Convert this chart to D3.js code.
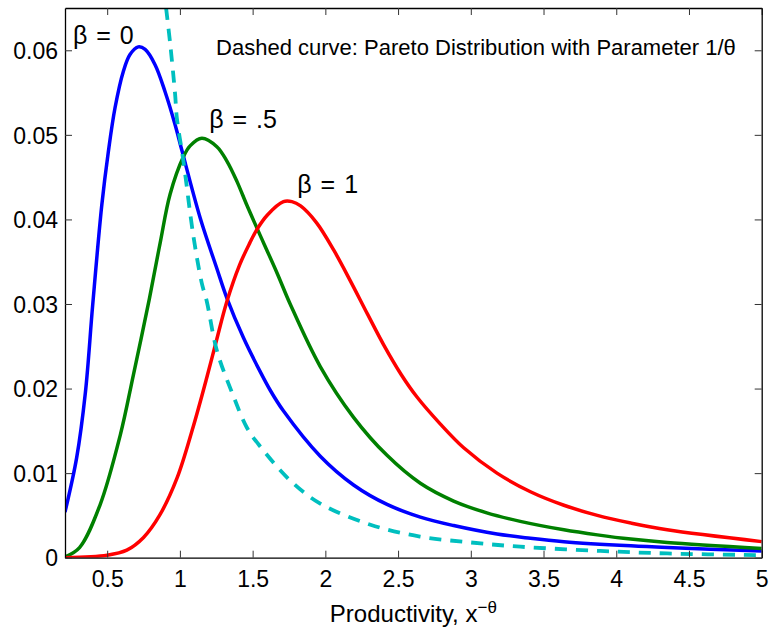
<!DOCTYPE html>
<html>
<head>
<meta charset="utf-8">
<script src="https://cdn.jsdelivr.net/npm/d3@7"></script>
<style>
    body { margin: 0; background: #fff; }
    svg text { font-family: "Liberation Sans", Arial, Helvetica, sans-serif; fill: #000; }
</style>
</head>
<body>
<div id="chart"></div>
<script>
// values
var betaZeroX = [0.21, 0.29, 0.35, 0.40, 0.463, 0.508, 0.554, 0.611, 0.657, 0.714, 0.761, 0.829, 0.898, 0.967, 1.013, 1.139, 1.254, 1.323, 1.437, 1.552, 1.621, 1.71, 1.965, 2.194, 2.424, 2.653, 2.882, 3.18, 3.41, 3.64, 4.10, 4.35, 5.0];
var betaZeroY = [0.0054, 0.0118, 0.0195, 0.0298, 0.0417, 0.0480, 0.0532, 0.0575, 0.0595, 0.0604, 0.0601, 0.0583, 0.0551, 0.0512, 0.0482, 0.0402, 0.0342, 0.0307, 0.0260, 0.0220, 0.0198, 0.0174, 0.0120, 0.0086, 0.0063, 0.0048, 0.0038, 0.0028, 0.0023, 0.0019, 0.0014, 0.0012, 0.0008];

var betaHalfX = [0.21, 0.31, 0.45, 0.59, 0.68, 0.79, 0.864, 0.933, 1.024, 1.07, 1.151, 1.254, 1.323, 1.392, 1.46, 1.529, 1.667, 1.758, 1.965, 2.194, 2.424, 2.653, 2.882, 3.11, 3.34, 3.64, 3.87, 4.10, 4.35, 5.0];
var betaHalfY = [0.0001, 0.0012, 0.0062, 0.0145, 0.0216, 0.0306, 0.0372, 0.0430, 0.0474, 0.0487, 0.0496, 0.0486, 0.0469, 0.0445, 0.0417, 0.0390, 0.0337, 0.0300, 0.0226, 0.0166, 0.0121, 0.0088, 0.0067, 0.0053, 0.0043, 0.0033, 0.0027, 0.0022, 0.0018, 0.0011];

var betaOneX = [0.21, 0.50, 0.635, 0.75, 0.86, 0.98, 1.09, 1.185, 1.25, 1.323, 1.41, 1.48, 1.529, 1.60, 1.712, 1.77, 1.83, 1.94, 2.06, 2.17, 2.29, 2.40, 2.52, 2.63, 2.791, 2.951, 3.18, 3.41, 3.64, 3.87, 4.10, 4.35, 5.0];
var betaOneY = [0.0000, 0.0003, 0.0009, 0.0024, 0.0050, 0.0094, 0.0154, 0.0213, 0.0256, 0.0303, 0.0346, 0.0372, 0.0388, 0.0405, 0.0421, 0.0421, 0.0416, 0.0396, 0.0363, 0.0328, 0.0288, 0.0252, 0.0217, 0.0190, 0.0158, 0.0130, 0.0100, 0.0078, 0.0062, 0.0050, 0.0041, 0.0033, 0.0019];

var paretoX = [0.905, 0.933, 0.967, 0.979, 1.024, 1.093, 1.15, 1.185, 1.254, 1.368, 1.46, 1.55, 1.76, 1.965, 2.31, 2.65, 3.0, 3.34, 3.89, 4.35, 5.0];
var paretoY = [0.0650, 0.0608, 0.0548, 0.0520, 0.0469, 0.0380, 0.0325, 0.0303, 0.0245, 0.0191, 0.0154, 0.0132, 0.0091, 0.0064, 0.0039, 0.0025, 0.0018, 0.0013, 0.0008, 0.0005, 0.0003];

var xTicks = [0.5, 1, 1.5, 2, 2.5, 3, 3.5, 4, 4.5, 5];
var xTickLabels = ["0.5", "1", "1.5", "2", "2.5", "3", "3.5", "4", "4.5", "5"];
var yTicks = [0, 0.01, 0.02, 0.03, 0.04, 0.05, 0.06];
var yTickLabels = ["0", "0.01", "0.02", "0.03", "0.04", "0.05", "0.06"];

var curveLabels = [
    { text: "β = 0", x: 0.265, y: 0.0608 },
    { text: "β = .5", x: 1.201, y: 0.0508 },
    { text: "β = 1", x: 1.807, y: 0.0431 }
];

var width = 770, height = 631;
var margin = { top: 8, right: 8.3, bottom: 73.3, left: 65 };
var innerW = width - margin.left - margin.right;
var innerH = height - margin.top - margin.bottom;

var x = d3.scaleLinear().domain([0.21, 5]).range([0, innerW]);
var y = d3.scaleLinear().domain([0, 0.065]).range([innerH, 0]);

var svg = d3.select("#chart").append("svg")
    .attr("width", width)
    .attr("height", height);

var g = svg.append("g").attr("transform", "translate(" + margin.left + "," + margin.top + ")");

g.append("clipPath").attr("id", "plotClip")
    .append("rect").attr("width", innerW).attr("height", innerH);

function toPoints(xs, ys) {
    return xs.map(function (d, i) { return [d, ys[i]]; });
}

var line = d3.line()
    .x(function (d) { return x(d[0]); })
    .y(function (d) { return y(d[1]); })
    .curve(d3.curveCatmullRom.alpha(0.5));

var series = [
    { pts: toPoints(betaZeroX, betaZeroY), color: "#0000ff", dash: null, w: 3.5 },
    { pts: toPoints(betaHalfX, betaHalfY), color: "#008000", dash: null, w: 3.5 },
    { pts: toPoints(betaOneX, betaOneY), color: "#ff0000", dash: null, w: 3.5 },
    { pts: toPoints(paretoX, paretoY), color: "#00bfbf", dash: "12,9", w: 3.8 }
];

var plot = g.append("g").attr("clip-path", "url(#plotClip)");
series.forEach(function (s) {
    plot.append("path")
        .datum(s.pts)
        .attr("fill", "none")
        .attr("stroke", s.color)
        .attr("stroke-width", s.w)
        .attr("stroke-dasharray", s.dash)
        .attr("d", line);
});

// axes, MATLAB style box with inward ticks
var fontSize = 23;
var xAxis = d3.axisBottom(x).tickValues(xTicks).tickSize(-7).tickSizeOuter(0).tickPadding(13)
    .tickFormat(function (d, i) { return xTickLabels[i]; });
var yAxis = d3.axisLeft(y).tickValues(yTicks).tickSize(-7).tickSizeOuter(0).tickPadding(7)
    .tickFormat(function (d, i) { return yTickLabels[i]; });

var gx = g.append("g").attr("transform", "translate(0," + innerH + ")").call(xAxis);
var gy = g.append("g").call(yAxis);
var gt = g.append("g").call(d3.axisTop(x).tickValues(xTicks).tickSize(-7).tickSizeOuter(0).tickFormat(""));
var gr = g.append("g").attr("transform", "translate(" + innerW + ",0)")
    .call(d3.axisRight(y).tickValues(yTicks).tickSize(-7).tickSizeOuter(0).tickFormat(""));

[gx, gy, gt, gr].forEach(function (a) {
    a.select(".domain").attr("stroke", "#000").attr("stroke-width", 1.3);
    a.selectAll(".tick line").attr("stroke", "#333").attr("stroke-width", 1);
    a.selectAll(".tick text")
        .attr("font-size", fontSize + "px")
        .attr("font-family", '"Liberation Sans", Arial, sans-serif')
        .attr("fill", "#000");
});
gy.selectAll(".tick text").attr("dy", "0.36em");

// curve labels
g.selectAll(".curve-label")
    .data(curveLabels)
    .enter().append("text")
    .attr("class", "curve-label")
    .attr("x", function (d) { return x(d.x); })
    .attr("y", function (d) { return y(d.y); })
    .attr("font-size", "25px")
    .attr("word-spacing", "2px")
    .text(function (d) { return d.text; });

g.append("text")
    .attr("x", x(1.249))
    .attr("y", y(0.0594))
    .attr("font-size", "22px")
    .text("Dashed curve: Pareto Distribution with Parameter 1/θ");

// x axis label with superscript
var xl = svg.append("text")
    .attr("x", margin.left + innerW / 2)
    .attr("y", 621.7)
    .attr("text-anchor", "middle")
    .attr("font-size", "24px");
xl.append("tspan").text("Productivity, x");
xl.append("tspan").attr("dy", "-0.5em").attr("font-size", "17px").text("−θ");
</script>
</body>
</html>
